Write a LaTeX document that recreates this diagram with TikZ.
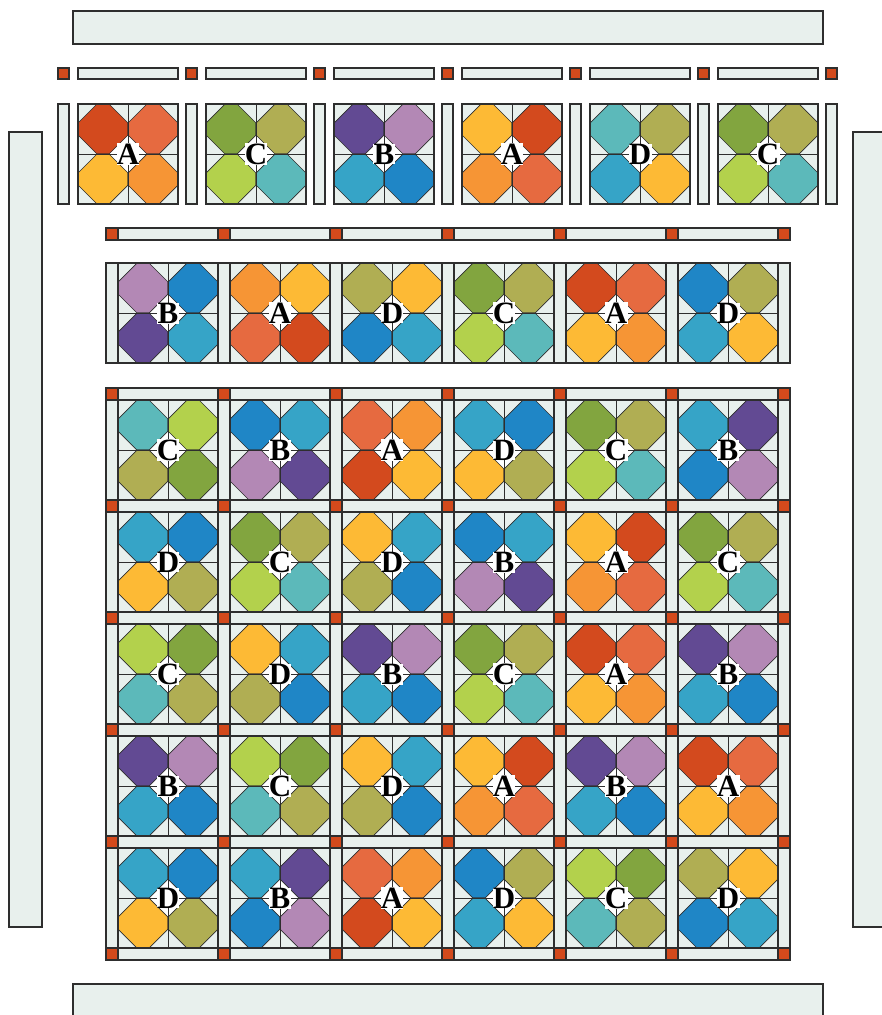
\documentclass[tikz,border=0pt]{standalone}
\usepackage{fontspec}
\newfontfamily\lblfont{Liberation Serif}
\definecolor{cBg}{HTML}{E8F0ED}
\definecolor{cLine}{HTML}{2E2E2E}
\definecolor{qStone}{HTML}{D34A1C}
\definecolor{qRed}{HTML}{D34A1E}
\definecolor{qCoral}{HTML}{E66A40}
\definecolor{qYellow}{HTML}{FDBA35}
\definecolor{qOrange}{HTML}{F69535}
\definecolor{qLilac}{HTML}{B388B5}
\definecolor{qBlue}{HTML}{1F86C6}
\definecolor{qPurple}{HTML}{624A93}
\definecolor{qTealBlue}{HTML}{36A4C7}
\definecolor{qGreen}{HTML}{82A53F}
\definecolor{qOlive}{HTML}{B0AE53}
\definecolor{qLime}{HTML}{B3D14C}
\definecolor{qTeal}{HTML}{5CB9BA}
\def\ct{19}
% one snowball quadrant: top-left corner x, y and its colour
\newcommand{\octa}[3]{%
  \filldraw[snow, fill=#3] (#1+\ct,#2) -- (#1+50-\ct,#2) -- (#1+50,#2+\ct) -- (#1+50,#2+50-\ct)
    -- (#1+50-\ct,#2+50) -- (#1+\ct,#2+50) -- (#1,#2+50-\ct) -- (#1,#2+\ct) -- cycle;}
% block: name, x, y, letter, colours TL TR BL BR
\newcommand{\snowblock}[8]{%
  \begin{scope}[shift={(#2,#3)}]
    \fill[cBg] (0,0) rectangle (100,100);
    \fill[white] (50-\ct,50) -- (50,50-\ct) -- (50+\ct,50) -- (50,50+\ct) -- cycle;
    \octa{0}{0}{#5}\octa{50}{0}{#6}\octa{0}{50}{#7}\octa{50}{50}{#8}
    \draw[seam] (50,0) -- (50,100) (0,50) -- (100,50);
    \draw[piece] (0,0) rectangle (100,100);
    \node (#1) [lbl] at (50,50) {#4};
  \end{scope}}

\begin{document}
\begin{tikzpicture}[
  x=1pt, y=-1pt,
  piece/.style={draw=cLine, line width=1.6pt},
  sash/.style={piece, fill=cBg},
  stone/.style={piece, fill=qStone},
  seam/.style={draw=cLine, line width=1pt},
  snow/.style={draw=cLine, line width=0.7pt},
  lbl/.style={fill=white, inner sep=0.3pt, font=\lblfont\bfseries\fontsize{31}{31}\selectfont},
]
\useasboundingbox (0,0) rectangle (882,1015);
\clip (0,0) rectangle (882,1015);

% ---------------- borders ----------------
\draw[sash] (73,11) rectangle (823,44);
\draw[sash] (73,984) rectangle (823,1030);
\draw[sash] (9,132) rectangle (42,927);
\draw[sash] (853,132) rectangle (900,927);

% ---------------- first row, pieces apart ----------------
\foreach \i in {0,...,6} {
  \draw[stone] (58+128*\i,68) rectangle +(11,11);
  \draw[sash] (58+128*\i,104) rectangle +(11,100);
}
\foreach \i in {0,...,5}
  \draw[sash] (78+128*\i,68) rectangle +(100,11);
\foreach \L/\a/\b/\c/\d [count=\i from 0] in {A/qRed/qCoral/qYellow/qOrange,
    C/qGreen/qOlive/qLime/qTeal, B/qPurple/qLilac/qTealBlue/qBlue,
    A/qYellow/qRed/qOrange/qCoral, D/qTeal/qOlive/qTealBlue/qYellow,
    C/qGreen/qOlive/qLime/qTeal}
  {\snowblock{t\i}{78+128*\i}{104}{\L}{\a}{\b}{\c}{\d}}

% ---------------- second row, sashing apart ----------------
\foreach \i in {0,...,6} {
  \draw[stone] (106+112*\i,228) rectangle +(12,12);
  \draw[sash] (106+112*\i,263) rectangle +(12,100);
}
\foreach \i in {0,...,5}
  \draw[sash] (118+112*\i,228) rectangle +(100,12);
\foreach \L/\a/\b/\c/\d [count=\i from 0] in {B/qLilac/qBlue/qPurple/qTealBlue,
    A/qOrange/qYellow/qCoral/qRed, D/qOlive/qYellow/qBlue/qTealBlue,
    C/qGreen/qOlive/qLime/qTeal, A/qRed/qCoral/qYellow/qOrange,
    D/qBlue/qOlive/qTealBlue/qYellow}
  {\snowblock{s\i}{118+112*\i}{263}{\L}{\a}{\b}{\c}{\d}}

% ---------------- sewn quilt centre ----------------
\foreach \r in {0,...,5}
  \foreach \i in {0,...,6} {
    \draw[stone] (106+112*\i,388+112*\r) rectangle +(12,12);
    \ifnum\i<6 \draw[sash] (118+112*\i,388+112*\r) rectangle +(100,12); \fi
  }
\foreach \r in {0,...,4}
  \foreach \i in {0,...,6}
    {\draw[sash] (106+112*\i,400+112*\r) rectangle +(12,100);}

\foreach \L/\a/\b/\c/\d [count=\i from 0] in {C/qTeal/qLime/qOlive/qGreen,
    B/qBlue/qTealBlue/qLilac/qPurple, A/qCoral/qOrange/qRed/qYellow,
    D/qTealBlue/qBlue/qYellow/qOlive, C/qGreen/qOlive/qLime/qTeal,
    B/qTealBlue/qPurple/qBlue/qLilac}
  {\snowblock{m1\i}{118+112*\i}{400}{\L}{\a}{\b}{\c}{\d}}
\foreach \L/\a/\b/\c/\d [count=\i from 0] in {D/qTealBlue/qBlue/qYellow/qOlive,
    C/qGreen/qOlive/qLime/qTeal, D/qYellow/qTealBlue/qOlive/qBlue,
    B/qBlue/qTealBlue/qLilac/qPurple, A/qYellow/qRed/qOrange/qCoral,
    C/qGreen/qOlive/qLime/qTeal}
  {\snowblock{m2\i}{118+112*\i}{512}{\L}{\a}{\b}{\c}{\d}}
\foreach \L/\a/\b/\c/\d [count=\i from 0] in {C/qLime/qGreen/qTeal/qOlive,
    D/qYellow/qTealBlue/qOlive/qBlue, B/qPurple/qLilac/qTealBlue/qBlue,
    C/qGreen/qOlive/qLime/qTeal, A/qRed/qCoral/qYellow/qOrange,
    B/qPurple/qLilac/qTealBlue/qBlue}
  {\snowblock{m3\i}{118+112*\i}{624}{\L}{\a}{\b}{\c}{\d}}
\foreach \L/\a/\b/\c/\d [count=\i from 0] in {B/qPurple/qLilac/qTealBlue/qBlue,
    C/qLime/qGreen/qTeal/qOlive, D/qYellow/qTealBlue/qOlive/qBlue,
    A/qYellow/qRed/qOrange/qCoral, B/qPurple/qLilac/qTealBlue/qBlue,
    A/qRed/qCoral/qYellow/qOrange}
  {\snowblock{m4\i}{118+112*\i}{736}{\L}{\a}{\b}{\c}{\d}}
\foreach \L/\a/\b/\c/\d [count=\i from 0] in {D/qTealBlue/qBlue/qYellow/qOlive,
    B/qTealBlue/qPurple/qBlue/qLilac, A/qCoral/qOrange/qRed/qYellow,
    D/qBlue/qOlive/qTealBlue/qYellow, C/qLime/qGreen/qTeal/qOlive,
    D/qOlive/qYellow/qBlue/qTealBlue}
  {\snowblock{m5\i}{118+112*\i}{848}{\L}{\a}{\b}{\c}{\d}}

\end{tikzpicture}
\end{document}
